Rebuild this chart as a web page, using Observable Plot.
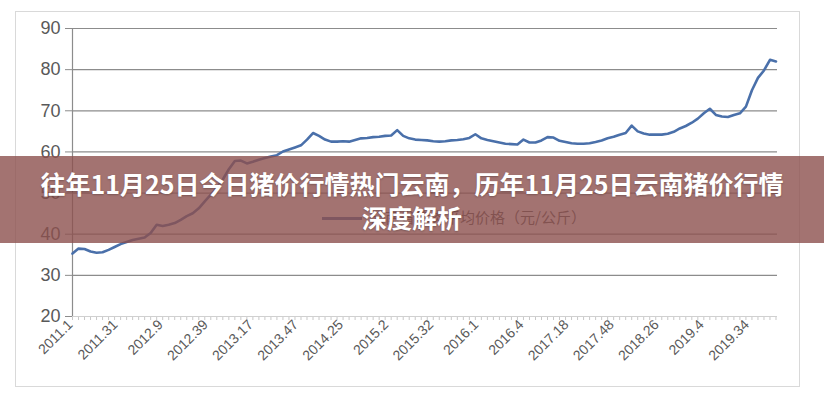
<!DOCTYPE html>
<html>
<head>
<meta charset="utf-8">
<script src="https://cdn.jsdelivr.net/npm/d3@7"></script>
<script src="https://cdn.jsdelivr.net/npm/@observablehq/plot@0.6"></script>
<style>
  html, body { margin: 0; padding: 0; background: #fff; }
  #wrap { position: relative; width: 824px; height: 400px; overflow: hidden; background: #fff; }
  #frame { position: absolute; left: 15px; top: 11px; width: 785px; height: 376px; border: 1px solid #d9d9d9; box-sizing: border-box; }
  #chart { position: absolute; left: 0; top: 0; }
  #legend { position: absolute; left: 322px; top: 207px; height: 20px; line-height: 20px; font-family: "Noto Sans CJK SC", sans-serif; font-size: 15px; color: #595959; white-space: nowrap; }
  #legend .sw { display: inline-block; width: 40px; height: 3px; background: #4a70aa; vertical-align: middle; margin-right: 8px; }
  #banner { position: absolute; left: 0; top: 156px; width: 824px; height: 87px; background: rgba(140, 80, 78, 0.8); box-sizing: border-box; padding-top: 10px; text-align: center; color: #fff; font-family: "Noto Sans CJK SC", sans-serif; font-weight: 700; font-size: 25px; line-height: 34px; text-shadow: 0 1px 2px rgba(0,0,0,0.25); }
</style>
</head>
<body>
<div id="wrap">
  <div id="frame"></div>
  <div id="chart"></div>
  <div id="legend"><span class="sw"></span>云南省猪肉平均价格（元/公斤）</div>
  <div id="banner">往年11月25日今日猪价行情热门云南，历年11月25日云南猪价行情<br>深度解析</div>
</div>
<script>
// Weekly pork price, sampled every 4 weeks (week index = position * 4)
const prices = [
  35.3, 36.5, 36.4, 35.8, 35.5, 35.6, 36.2, 36.9, 37.6, 38.1,
  38.6, 38.9, 39.2, 40.3, 42.3, 42.0, 42.3, 42.7, 43.5, 44.4,
  45.1, 46.3, 48.0, 49.6, 51.3, 53.3, 55.8, 57.8, 57.9, 57.2,
  57.6, 58.1, 58.5, 58.9, 59.2, 60.1, 60.6, 61.1, 61.6, 63.0,
  64.6, 63.9, 63.0, 62.5, 62.5, 62.6, 62.5, 62.9, 63.3, 63.4,
  63.6, 63.7, 63.9, 64.0, 65.3, 63.9, 63.3, 63.0, 62.9, 62.8,
  62.6, 62.5, 62.6, 62.8, 62.9, 63.1, 63.4, 64.3, 63.3, 62.9,
  62.6, 62.3, 62.0, 61.9, 61.8, 63.0, 62.3, 62.3, 62.8, 63.6,
  63.5, 62.7, 62.4, 62.1, 62.0, 62.0, 62.1, 62.4, 62.8, 63.3,
  63.7, 64.2, 64.6, 66.4, 65.0, 64.5, 64.2, 64.2, 64.2, 64.4,
  64.9, 65.7, 66.3, 67.1, 68.1, 69.4, 70.5, 69.0, 68.6, 68.5,
  69.0, 69.4, 71.0, 75.0, 78.0, 79.8, 82.4, 82.0
];
const sampleStep = 4;          // weeks between samples
const totalWeeks = 470;        // categories on the x axis
const labelEvery = 30;         // a category label every 30 weeks
const tickLabels = ["2011.1","2011.31","2012.9","2012.39","2013.17","2013.47","2014.25","2015.2",
                    "2015.32","2016.1","2016.4","2017.18","2017.48","2018.26","2019.4","2019.34"];
const yTicks = [20, 30, 40, 50, 60, 70, 80, 90];

const data = prices.map((p, k) => ({week: k * sampleStep, price: p}));
const labelData = tickLabels.map((t, i) => ({week: i * labelEvery, text: t}));

const chart = Plot.plot({
  width: 824,
  height: 400,
  marginLeft: 72,
  marginRight: 47,
  marginTop: 28,
  marginBottom: 84,
  x: {domain: [0, totalWeeks - 1]},
  y: {domain: [20, 90]},
  style: {background: "transparent", fontFamily: "'Liberation Sans', sans-serif", color: "#595959"},
  marks: [
    Plot.ruleY(yTicks.filter(d => d > 20), {stroke: "#8c8c8c", strokeWidth: 1.2}),
    Plot.axisX(d3.range(0, totalWeeks, sampleStep), {tickSize: 4, stroke: "#c8c8c8", tickFormat: () => "", label: null}),
    Plot.ruleY([20], {stroke: "#d0d0d0", strokeWidth: 1.2}),
    Plot.ruleX([0], {stroke: "#8c8c8c", strokeWidth: 1.2}),
    Plot.axisY(yTicks, {tickSize: 7, tickPadding: 5, fontSize: 18, stroke: "#8c8c8c", label: null}),
    Plot.text(labelData, {x: "week", text: "text", frameAnchor: "bottom", dy: 9, dx: 1, rotate: -45, textAnchor: "end", fontSize: 14, fill: "#595959"}),
    Plot.line(data, {x: "week", y: "price", stroke: "#4a70aa", strokeWidth: 2.6, strokeLinejoin: "round"})
  ]
});
document.getElementById("chart").appendChild(chart);
</script>
</body>
</html>
